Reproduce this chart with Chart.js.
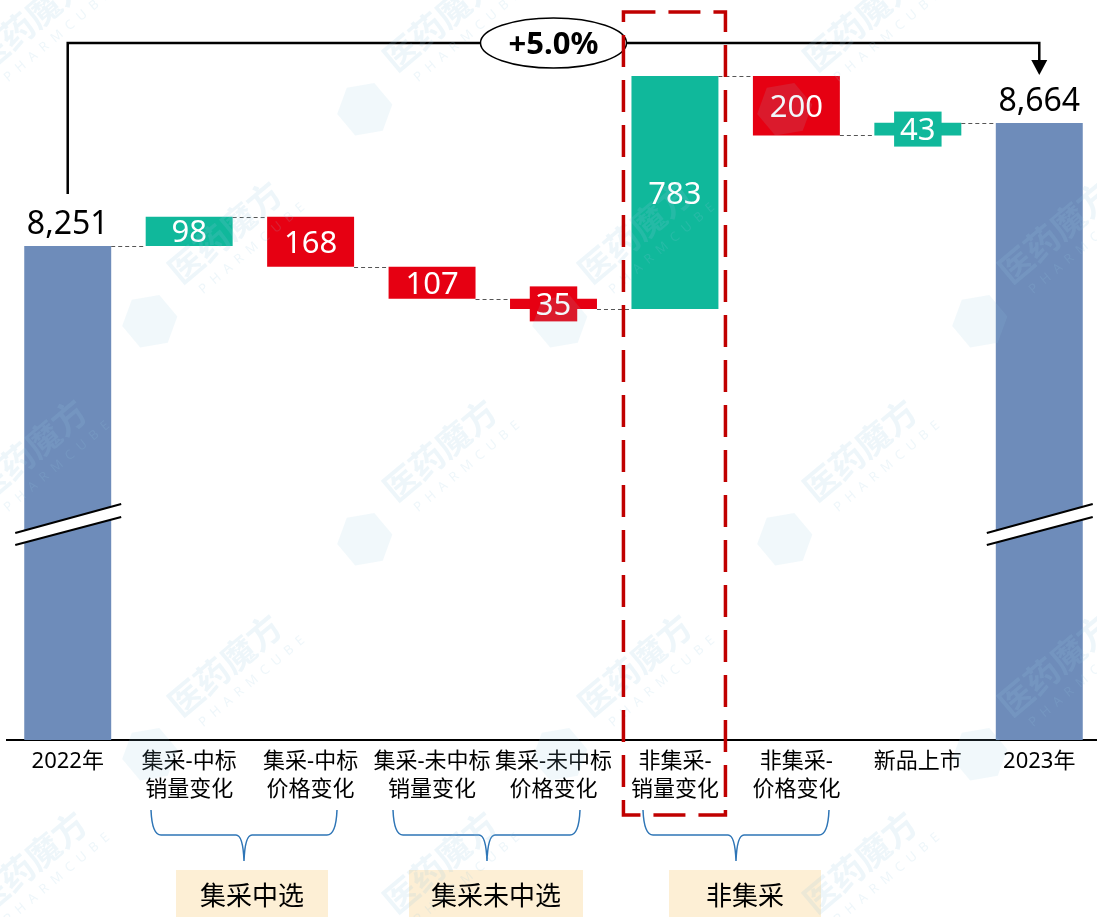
<!DOCTYPE html>
<html>
<head>
<meta charset="utf-8">
<script src="https://cdn.jsdelivr.net/npm/chart.js@4.4.1/dist/chart.umd.min.js"></script>
<style>
    html, body { margin: 0; padding: 0; background: #fff; overflow: hidden; }
    #wrap { width: 1100px; height: 917px; }
</style>
</head>
<body>
<div id="wrap"><canvas id="waterfall-chart" width="1100" height="917"></canvas></div>
<script>
// ---- data ----
const categories = [
    ['2022年'],
    ['集采-中标', '销量变化'],
    ['集采-中标', '价格变化'],
    ['集采-未中标', '销量变化'],
    ['集采-未中标', '价格变化'],
    ['非集采-', '销量变化'],
    ['非集采-', '价格变化'],
    ['新品上市'],
    ['2023年']
];
const startValue = 8251;
const changes = [98, -168, -107, -35, 783, -200, 43];
const endValue = 8664;
const growthText = '+5.0%';
const groupLabels = ['集采中选', '集采未中选', '非集采'];

// ---- look ----
const FONT = "'Noto Sans', 'Noto Sans CJK SC', sans-serif";
const CJK = "'Noto Sans CJK SC', sans-serif";
const BLUE = '#6e8cba', GREEN = '#10b89b', RED = '#e60012';
const Y_MIN = 6592, Y_MAX = 9077;

// brace + box positions (px) for the three groups
const groupLayout = [
    { x1: 151, x2: 337, tip: 244, boxL: 176, boxR: 328 },
    { x1: 393, x2: 580, tip: 487, boxL: 409, boxR: 583 },
    { x1: 643, x2: 829, tip: 736, boxL: 669, boxR: 821 }
];

// build floating bars from the values
let barData = [[Y_MIN, startValue]];
let barColors = [BLUE];
let barText = [startValue.toLocaleString('en-US')];
let running = startValue;
changes.forEach(d => {
    barData.push([running, running + d]);
    barColors.push(d >= 0 ? GREEN : RED);
    barText.push(String(Math.abs(d)));
    running += d;
});
barData.push([Y_MIN, endValue]);
barColors.push(BLUE);
barText.push(endValue.toLocaleString('en-US'));

function drawBrace(ctx, g) {
    const top = 810, mid = 835, tip = 861;
    ctx.beginPath();
    ctx.moveTo(g.x1, top);
    ctx.quadraticCurveTo(g.x1 + 1, mid, g.x1 + 10, mid);
    ctx.lineTo(g.tip - 8, mid);
    ctx.quadraticCurveTo(g.tip - 1, mid, g.tip, tip);
    ctx.moveTo(g.tip, tip);
    ctx.quadraticCurveTo(g.tip + 1, mid, g.tip + 8, mid);
    ctx.lineTo(g.x2 - 10, mid);
    ctx.quadraticCurveTo(g.x2 - 1, mid, g.x2, top);
    ctx.stroke();
}

function drawWatermark(ctx, x, y) {
    ctx.save();
    ctx.translate(x, y);
    ctx.rotate(-40 * Math.PI / 180);
    ctx.fillStyle = 'rgba(150, 200, 225, 0.16)';
    ctx.font = `bold 34px ${CJK}`;
    ctx.textAlign = 'center';
    ctx.textBaseline = 'middle';
    ctx.fillText('医药魔方', 0, 0);
    ctx.font = `13px ${FONT}`;
    ctx.fillText('P  H  A  R  M  C  U  B  E', 10, 30);
    // cube logo
    ctx.fillStyle = 'rgba(150, 200, 225, 0.13)';
    ctx.translate(-115, 20);
    ctx.beginPath();
    for (let k = 0; k < 6; k++) {
        const a = Math.PI / 3 * k + Math.PI / 6;
        const px = Math.cos(a) * 28, py = Math.sin(a) * 28;
        k === 0 ? ctx.moveTo(px, py) : ctx.lineTo(px, py);
    }
    ctx.closePath();
    ctx.fill();
    ctx.restore();
}

const waterfallPlugin = {
    id: 'waterfall',
    afterDatasetsDraw(chart) {
        const ctx = chart.ctx;
        const bars = chart.getDatasetMeta(0).data;
        const yScale = chart.scales.y;
        const last = bars.length - 1;
        ctx.save();

        // dashed connectors
        ctx.strokeStyle = '#555';
        ctx.lineWidth = 1;
        ctx.setLineDash([4, 3]);
        for (let i = 0; i < last; i++) {
            const py = Math.round(yScale.getPixelForValue(barData[i][1])) + 0.5;
            ctx.beginPath();
            ctx.moveTo(bars[i].x + bars[i].width / 2, py);
            ctx.lineTo(bars[i + 1].x - bars[i + 1].width / 2, py);
            ctx.stroke();
        }
        ctx.setLineDash([]);

        // axis break marks on the two total bars
        [0, last].forEach(i => {
            const b = bars[i];
            const l = b.x - b.width / 2 - 9, r = b.x + b.width / 2 + 10;
            ctx.fillStyle = '#fff';
            ctx.beginPath();
            ctx.moveTo(l, 533); ctx.lineTo(r, 504); ctx.lineTo(r, 517); ctx.lineTo(l, 545);
            ctx.closePath();
            ctx.fill();
            ctx.strokeStyle = '#000';
            ctx.lineWidth = 2;
            ctx.beginPath();
            ctx.moveTo(l, 533); ctx.lineTo(r, 504);
            ctx.moveTo(l, 545); ctx.lineTo(r, 517);
            ctx.stroke();
        });

        // value labels
        ctx.textAlign = 'center';
        ctx.textBaseline = 'alphabetic';
        bars.forEach((b, i) => {
            if (i === 0 || i === last) {
                ctx.font = `32px ${FONT}`;
                ctx.fillStyle = '#000';
                ctx.fillText(barText[i], b.x, Math.min(b.y, b.base) - 12);
                return;
            }
            const top = Math.min(b.y, b.base), bot = Math.max(b.y, b.base);
            const cy = (top + bot) / 2;
            ctx.font = `31px ${FONT}`;
            if (bot - top < 20) {
                const w = ctx.measureText(barText[i]).width + 12;
                ctx.fillStyle = barColors[i];
                ctx.fillRect(b.x - w / 2, cy - 17.5, w, 35);
            }
            ctx.fillStyle = '#fff';
            ctx.fillText(barText[i], b.x, cy + 11);
        });

        // growth bracket
        const x0 = bars[0].x, x1 = bars[last].x, lineY = 43;
        ctx.strokeStyle = '#000';
        ctx.lineWidth = 2.5;
        ctx.beginPath();
        ctx.moveTo(x0, 194);
        ctx.lineTo(x0, lineY);
        ctx.lineTo(x1, lineY);
        ctx.lineTo(x1, 62);
        ctx.stroke();
        ctx.fillStyle = '#000';
        ctx.beginPath();
        ctx.moveTo(x1 - 8, 60); ctx.lineTo(x1 + 8, 60); ctx.lineTo(x1, 75);
        ctx.closePath();
        ctx.fill();

        const ex = bars[4].x;
        ctx.fillStyle = '#fff';
        ctx.lineWidth = 1.5;
        ctx.beginPath();
        ctx.ellipse(ex, lineY, 73, 25, 0, 0, Math.PI * 2);
        ctx.fill();
        ctx.stroke();
        ctx.fillStyle = '#000';
        ctx.font = `bold 31px ${FONT}`;
        ctx.fillText(growthText, ex, lineY + 11);
        ctx.restore();
    },
    afterDraw(chart) {
        const ctx = chart.ctx;
        const bars = chart.getDatasetMeta(0).data;
        ctx.save();

        // group braces and boxes
        ctx.strokeStyle = '#2e75b6';
        ctx.lineWidth = 1.5;
        groupLayout.forEach((g, i) => {
            drawBrace(ctx, g);
            ctx.fillStyle = '#fdefd5';
            ctx.fillRect(g.boxL, 870, g.boxR - g.boxL, 50);
            ctx.fillStyle = '#000';
            ctx.font = `26px ${CJK}`;
            ctx.textAlign = 'center';
            ctx.textBaseline = 'middle';
            ctx.fillText(groupLabels[i], (g.boxL + g.boxR) / 2, 895);
        });

        // faint watermarks
        const rows = [20, 232, 450, 665, 862];
        rows.forEach((wy, r) => {
            const xs = r % 2 === 0 ? [30, 440, 860] : [225, 635, 1055];
            xs.forEach(wx => drawWatermark(ctx, wx, wy));
        });

        // red dashed highlight
        const hx = bars[5].x;
        ctx.strokeStyle = '#c00000';
        ctx.lineWidth = 3.5;
        ctx.setLineDash([32, 13]);
        ctx.strokeRect(hx - 51.5, 12, 102, 803);
        ctx.restore();
    }
};

const ctx = document.getElementById('waterfall-chart').getContext('2d');
const chart = new Chart(ctx, {
    type: 'bar',
    data: {
        labels: categories,
        datasets: [
            {
                data: barData,
                backgroundColor: barColors,
                borderWidth: 0,
                barPercentage: 0.716,
                categoryPercentage: 1
            }
        ]
    },
    options: {
        responsive: false,
        animation: false,
        layout: {
            padding: { left: 7, right: 0, top: 0, bottom: 0 }
        },
        plugins: {
            legend: { display: false },
            tooltip: { enabled: false }
        },
        scales: {
            x: {
                grid: { display: false, drawTicks: false },
                border: { display: true, color: '#000', width: 2 },
                ticks: {
                    autoSkip: false,
                    maxRotation: 0,
                    padding: 8,
                    color: '#000',
                    font: { family: FONT, size: 22, lineHeight: 1.25 }
                },
                afterFit: axis => { axis.height = 177; }
            },
            y: {
                display: false,
                min: Y_MIN,
                max: Y_MAX
            }
        }
    },
    plugins: [waterfallPlugin]
});
</script>
</body>
</html>
